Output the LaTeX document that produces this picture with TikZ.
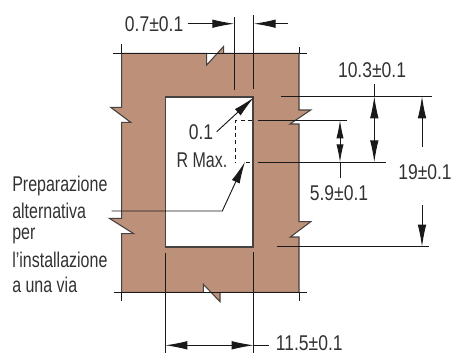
\documentclass[tikz,border=0pt]{standalone}
\usepackage{fontspec}
\setmainfont[FakeStretch=0.75]{Liberation Sans}
\newfontfamily\digitfont[FakeStretch=0.82]{Liberation Sans}
\usetikzlibrary{arrows.meta}
\definecolor{wallc}{RGB}{189,144,121}
\definecolor{edgec}{RGB}{70,66,64}
\definecolor{inkc}{RGB}{25,25,25}
\definecolor{txtc}{RGB}{50,50,50}
\tikzset{
 wall/.style={fill=wallc,draw=edgec,line width=0.8pt,line join=miter},
 opening/.style={fill=white,draw=edgec,line width=0.8pt},
 dimline/.style={draw=inkc,line width=0.7pt},
 bighead/.style={dimline,-{Latex[length=16.5pt,width=6.4pt]}},
 midhead/.style={dimline,-{Latex[length=13.5pt,width=5.4pt]}},
 dashline/.style={draw=inkc,line width=0.7pt,dash pattern=on 3pt off 2.4pt},
 lab/.style={inner sep=0pt,text=txtc,font=\fontsize{16pt}{18pt}\selectfont},
 num/.style={inner sep=0pt,text=txtc,font=\fontsize{16pt}{18pt}\digitfont},
 side/.style={lab,anchor=west}
}
\begin{document}
\begin{tikzpicture}[x=0.75pt,y=-0.75pt]
\useasboundingbox (0,0) rectangle (452,353);
% wall
\draw[wall] (121.7,53.3) -- (206.7,53.3) -- (206.7,65) -- (223.7,46.3) -- (223.7,53.3)
 -- (299,53.3) -- (299,110) -- (310.7,110) -- (290,124) -- (299,124)
 -- (299,221.7) -- (310.7,221.7) -- (290.3,237) -- (299,237)
 -- (299,292.3) -- (220,292.3) -- (220,301.7) -- (203.3,284.3) -- (203.3,292.3)
 -- (121.7,292.3) -- (121.7,233.7) -- (133.7,233.7) -- (109.3,218.3) -- (121.7,218.3)
 -- (121.7,122.3) -- (130.7,122.3) -- (110.7,107.3) -- (121.7,107.3) -- cycle;
\draw[opening] (165.3,97) rectangle (253,247);
% break lines and ticks
\draw[dimline] (112.7,53.3) -- (306.7,53.3);
\draw[dimline] (114,292.3) -- (307,292.3);
\draw[dimline] (121.7,44) -- (121.7,53.3);
\draw[dimline] (299,47) -- (299,53.3);
\draw[dimline] (121.7,292.3) -- (121.7,300.7);
\draw[dimline] (299,292.3) -- (299,300.7);
% top dimension
\coordinate (ta) at (234.3,23.7);
\coordinate (tb) at (253.7,23.7);
\draw[dimline] (234.3,17) -- (234.3,89.7);
\draw[dimline] (253.7,15) -- (253.7,88.7);
\coordinate (tl) at (187.7,23.7);
\coordinate (tr) at (287.7,23.7);
\draw[bighead] (tl) -- (ta);
\draw[bighead] (tr) -- (tb);
\node[num,anchor=east] (d07) at (183.5,24) {0.7±0.1};
% radius arrow
\node[num] (r01) at (201,132) {0.1};
\node[lab] (rmax) at (202,160) {R Max.};
\coordinate (rs) at (216.7,131.7);
\coordinate (rt) at (254,97.3);
\draw[bighead] (rs) -- (rt);
% dashed alternative
\draw[dashline] (251.7,120.3) -- (235.7,120.3) -- (235.7,163);
\draw[dashline] (246,162.3) -- (252,162.3);
% leader
\coordinate (la) at (111.7,211);
\coordinate (lb) at (222.3,211);
\coordinate (lt) at (245,161.7);
\draw[bighead] (la) -- (lb) -- (lt);
% right extension lines
\draw[dimline] (281,96.3) -- (431.7,96.3);
\draw[dimline] (257.7,120.3) -- (346.7,120.3);
\draw[dimline] (257.7,162.3) -- (385.7,162.3);
\draw[dimline] (277.3,246.7) -- (429.3,246.7);
% 10.3
\coordinate (a1) at (374.3,96.3);
\coordinate (a2) at (374.3,162.3);
\draw[dimline] (374.3,84.3) -- (a1);
\draw[midhead,{Latex[length=16.5pt,width=6.4pt]}-{Latex[length=16.5pt,width=6.4pt]}] (a1) -- (a2);
\node[num] (d103) at (372,70) {10.3±0.1};
% 5.9
\coordinate (b1) at (340,120.3);
\coordinate (b2) at (340,162.3);
\coordinate (b3) at (340,178.3);
\draw[dimline] (b2) -- (b3);
\draw[midhead,{Latex[length=13.5pt,width=5.4pt]}-{Latex[length=13.5pt,width=5.4pt]}] (b1) -- (b2);
\node[num] (d59) at (339,192.7) {5.9±0.1};
% 19
\coordinate (c1) at (422,147.3);
\coordinate (c2) at (422,96.3);
\coordinate (c3) at (422,205);
\coordinate (c4) at (422,246.7);
\draw[bighead] (c1) -- (c2);
\draw[bighead] (c3) -- (c4);
\node[num] (d19) at (425,172) {19±0.1};
% bottom dimension
\draw[dimline] (165.3,253.3) -- (165.3,353);
\draw[dimline] (253.7,252) -- (253.7,353);
\coordinate (e1) at (165.3,345.3);
\coordinate (e2) at (253.7,345.3);
\coordinate (e3) at (269,345.3);
\draw[dimline] (e2) -- (e3);
\draw[bighead,{Latex[length=16.5pt,width=6.4pt]}-{Latex[length=16.5pt,width=6.4pt]}] (e1) -- (e2);
\node[num,anchor=west] (d115) at (275.7,343.5) {11.5±0.1};
% side text
\node[side] (t1) at (12,185.5) {Preparazione};
\node[side] (t2) at (12,210.5) {alternativa};
\node[side] (t3) at (12,235.5) {per};
\node[side] (t4) at (12,260) {l'installazione};
\node[side] (t5) at (12,284.5) {a una via};
\end{tikzpicture}
\end{document}
